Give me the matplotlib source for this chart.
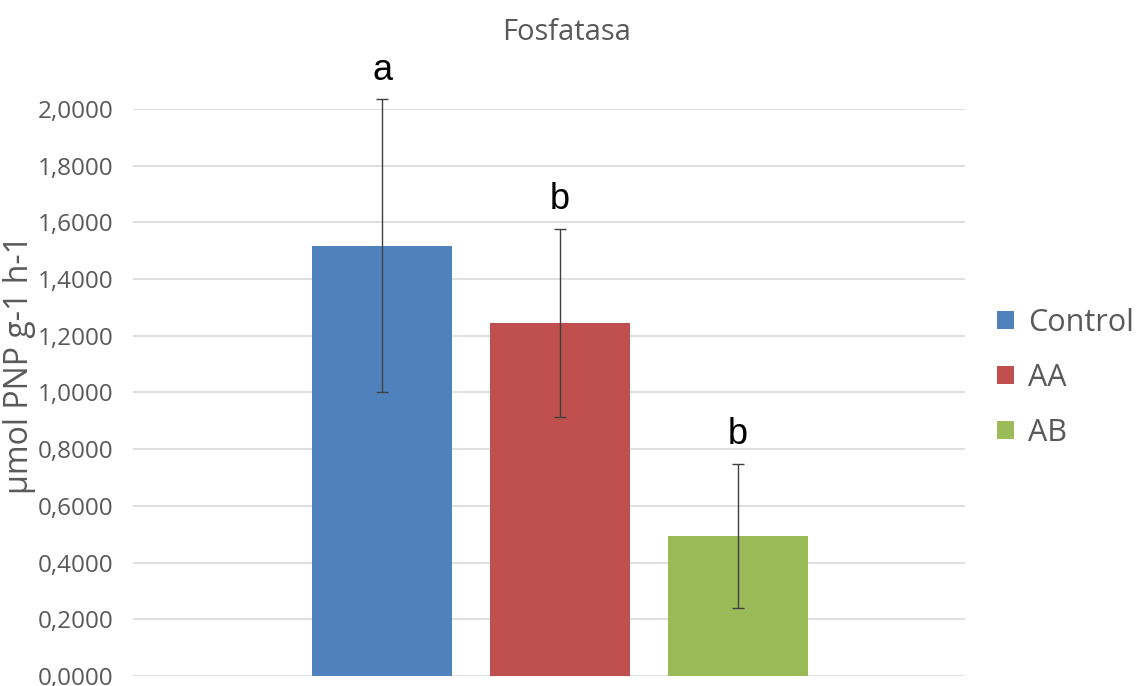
import matplotlib
matplotlib.use('Agg')
import matplotlib.pyplot as plt
from matplotlib.ticker import FuncFormatter

# data
groups = ['Control', 'AA', 'AB']
means = [1.517, 1.245, 0.494]
errors = [0.517, 0.333, 0.254]
letters = ['a', 'b', 'b']
colors = ['#4f81bd', '#c0504d', '#9bbb59']

plt.rcParams['font.family'] = ['Open Sans', 'DejaVu Sans']
grey = '#595959'

fig = plt.figure(figsize=(11.37, 6.86), dpi=100)
ax = fig.add_axes([0.117, 0.0146, 0.7317, 0.8266])

pos = list(range(len(groups)))
for i in pos:
    ax.bar(i, means[i], width=0.79, color=colors[i], label=groups[i], zorder=2)
    ax.errorbar(i, means[i], yerr=errors[i], fmt='none', ecolor='#404040',
                elinewidth=1, capsize=4, capthick=1, zorder=3, clip_on=False)
    ax.annotate(letters[i], (i, means[i] + errors[i]), xytext=(0, 14),
                textcoords='offset points', ha='center', va='baseline',
                fontsize=26, family='Liberation Sans', color='black',
                annotation_clip=False)

ax.set_xlim(-1.40, 3.275)
ax.set_ylim(0, 2.0)
ax.set_yticks([i * 0.2 for i in range(11)])
ax.yaxis.set_major_formatter(FuncFormatter(lambda v, p: f'{v:.4f}'.replace('.', ',')))
ax.set_xticks([])
ax.grid(axis='y', color='#d9d9d9', linewidth=1.2, zorder=0)
ax.tick_params(axis='y', length=0, pad=14, labelsize=17.5, labelcolor=grey)
for s in ax.spines.values():
    s.set_visible(False)

ax.set_ylabel('µmol PNP g-1 h-1', fontsize=23, color=grey, va='center')
ax.yaxis.set_label_coords(-0.136, 0.55)
fig.text(0.4987, 0.952, 'Fosfatasa', ha='center', va='center', fontsize=21, color=grey)

leg = ax.legend(loc='center left', bbox_to_anchor=(1.006, 0.526), frameon=False,
                fontsize=22, handlelength=0.55, handleheight=0.55, handletextpad=0.45,
                labelspacing=0.82, labelcolor=grey)

fig.savefig('out.png', dpi=100)
